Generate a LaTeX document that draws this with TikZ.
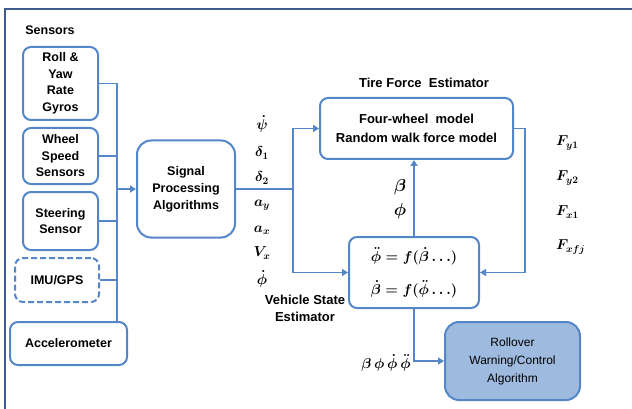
\documentclass[tikz,border=0pt]{standalone}
\usepackage{fontspec}
\setmainfont{Liberation Sans}
\usetikzlibrary{arrows.meta}
\definecolor{boxblue}{RGB}{84,134,200}
\definecolor{frameblue}{RGB}{62,92,142}
\definecolor{fillblue}{RGB}{158,186,222}
\tikzset{
  sbox/.style={draw=boxblue, line width=2pt, rounded corners=8pt, align=center,
    inner sep=0pt, font=\bfseries\fontsize{12.5}{16.5}\selectfont},
  conn/.style={draw=boxblue, line width=1.8pt},
  arr/.style={conn, -{Triangle[length=6pt,width=7pt]}},
  lbl/.style={font=\bfseries\fontsize{12.5}{17}\selectfont, align=center, inner sep=0pt},
  mlbl/.style={font=\fontsize{14}{16}\selectfont\boldmath, inner sep=0pt},
}
\begin{document}
\begin{tikzpicture}[x=1pt,y=-1pt]
\useasboundingbox (0,0) rectangle (632,409);
% outer frame
\draw[frameblue, line width=2.6pt] (5,409) -- (5,9) -- (632,9);
% sensors
\node[lbl] (sens) at (50,30) {Sensors};
\node[sbox, minimum width=75pt, minimum height=73pt] (roll) at (60.5,83.5) {Roll \&\\Yaw\\Rate\\Gyros};
\node[sbox, minimum width=75pt, minimum height=56pt] (wheel) at (60.5,156) {Wheel\\Speed\\Sensors};
\node[sbox, minimum width=75pt, minimum height=58pt] (steer) at (60.5,221) {Steering\\Sensor};
\node[sbox, dashed, dash pattern=on 6pt off 3pt, minimum width=84pt, minimum height=44pt] (imu) at (57,280) {IMU/GPS};
\node[sbox, minimum width=117pt, minimum height=43pt] (accel) at (68.5,343.5) {Accelerometer};
\coordinate (bus) at (117,0);
\draw[conn] (roll.east) -- (roll.east -| bus) -- (bus |- accel.north);
\draw[conn] (wheel.east) -- (wheel.east -| bus);
\draw[conn] (steer.east) -- (steer.east -| bus);
\draw[conn] (imu.east) -- (imu.east -| bus);
% signal processing
\node[sbox, rounded corners=14pt, minimum width=98pt, minimum height=97pt, font=\bfseries\fontsize{12.5}{17}\selectfont] (sp) at (186,189) {Signal\\Processing\\Algorithms};
\draw[arr] (sp.west -| bus) -- (sp.west);
% tire force estimator
\node[lbl, font=\bfseries\fontsize{13}{17}\selectfont] (tfe) at (424,83) {Tire Force\ \ Estimator};
\node[sbox, font=\bfseries\fontsize{13}{19}\selectfont, minimum width=193pt, minimum height=61pt] (tire) at (416.5,128.5) {Four-wheel\ \ model\\Random walk force model};
% vehicle state estimator
\node[sbox, minimum width=130pt, minimum height=71pt, font=\fontsize{14.5}{33}\selectfont\boldmath] (vse) at (414,272.5)
  {$\ddot{\phi}=f(\dot{\beta}\ldots)$\\$\dot{\beta}=f(\ddot{\phi}\ldots)$};
\node[lbl, font=\bfseries\fontsize{13}{17}\selectfont] (vsel) at (305,308.5) {Vehicle State\\Estimator};
% rollover
\node[sbox, fill=fillblue, rounded corners=14pt, font=\fontsize{12}{18}\selectfont, minimum width=135pt, minimum height=78pt] (roll2) at (512.5,361) {Rollover\\Warning/Control\\Algorithm};
% split connections
\coordinate (split) at (293,189);
\draw[conn] (sp.east) -- (split);
\draw[arr] (split) |- (tire.west);
\draw[arr] (split) |- (vse.west);
\draw[arr] (vse.north) -- (vse.north |- tire.south);
\coordinate (fb) at (525,128.5);
\draw[arr] (tire.east) -- (fb) |- (vse.east);
\draw[arr] (vse.south) |- (roll2.west);
% signal labels
\node[mlbl] (l1) at (262,124) {$\dot{\psi}$};
\node[mlbl] (l2) at (262,153) {$\delta_1$};
\node[mlbl] (l3) at (262,178) {$\delta_2$};
\node[mlbl] (l4) at (262,205) {$a_y$};
\node[mlbl] (l5) at (262,230) {$a_x$};
\node[mlbl] (l6) at (262,253) {$V_x$};
\node[mlbl] (l7) at (262,279) {$\dot{\phi}$};
% estimator outputs
\node[mlbl, font=\fontsize{16}{18}\selectfont\boldmath] (beta) at (400,187) {$\beta$};
\node[mlbl, font=\fontsize{16}{18}\selectfont\boldmath] (phi) at (400,211) {$\phi$};
\node[mlbl] (outs) at (386,363) {$\beta\,\phi\,\dot{\phi}\,\ddot{\phi}$};
% forces
\node[mlbl, anchor=west] (f1) at (556,143) {$F_{y1}$};
\node[mlbl, anchor=west] (f2) at (556,178) {$F_{y2}$};
\node[mlbl, anchor=west] (f3) at (556,212) {$F_{x1}$};
\node[mlbl, anchor=west] (f4) at (556,247) {$F_{xfj}$};
\end{tikzpicture}
\end{document}
